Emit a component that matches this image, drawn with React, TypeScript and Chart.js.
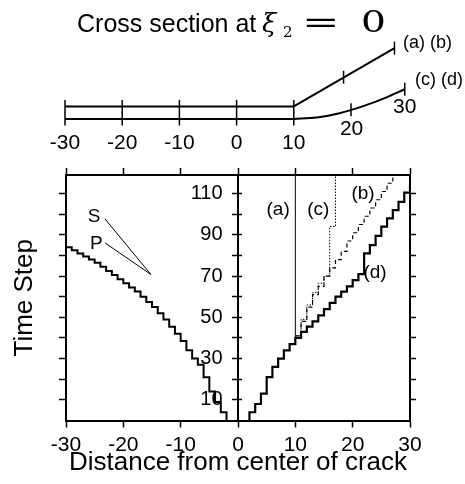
import React, { useEffect, useRef } from 'react';
import { Chart, registerables } from 'chart.js';
Chart.register(...registerables);

const FONT = "'Liberation Sans', Arial, sans-serif";
const SERIF = "'DejaVu Serif', 'Liberation Serif', serif";

// ---------- main panel data ----------
const xTickValues = [-30, -20, -10, 0, 10, 20, 30];
const timeTickValues = [10, 20, 30, 40, 50, 60, 70, 80, 90, 100, 110];
const timeLabelValues = [10, 30, 50, 70, 90, 110];
const timeLabelColumnX = -2.7;

const leftFrontX = [-30, -29, -28, -27, -26, -25, -24, -23, -22, -21, -20, -19, -18, -17, -16, -15, -14, -13, -12, -11, -10, -9, -8, -7, -6, -5, -4, -3, -2];
const leftFrontT = [84, 82.5, 81, 79.5, 78, 76.5, 74.5, 72.5, 70.5, 68.5, 66.5, 64.5, 62.5, 60, 57.5, 55, 52, 49, 45.5, 42, 38.5, 34, 30, 27, 21, 14, 9, 4, 0];

const dX = [2, 2, 3, 4, 5, 6, 7, 8, 9, 10, 11, 12, 13, 14, 15, 16, 17, 18, 19, 20, 21, 22, 22, 23, 24, 25, 26, 27, 28, 29, 30];
const dT = [0, 4, 8, 13, 21, 26, 30, 34, 37, 40, 43, 45.5, 48, 51, 54, 57, 60, 62.5, 65, 68, 71, 74, 81, 85, 89.5, 94, 98, 102, 106, 110.5, 115];

const bX = [10, 11, 12, 13, 14, 15, 16, 17, 18, 19, 20, 21, 22, 23, 24, 25, 26, 27];
const bT = [41, 48, 55, 61, 65, 70, 74, 78, 82, 87, 91, 95, 99, 103, 107, 111, 115, 122];

const cX = [10, 11, 12, 13, 14, 15, 16, 17];
const cT = [41, 49, 56, 62, 66.5, 70, 94, 122];

const aX = [10, 10];
const aT = [40, 122];

const sLineX = [-23.2, -15.2];
const sLineT = [97.7, 70.8];
const pLineX = [-23.2, -15.2];
const pLineT = [86.1, 70.8];

const noteText = ['S', 'P', '(a)', '(c)', '(b)', '(d)'];
const noteX = [-25.1, -24.7, 7, 14, 21.8, 23.9];
const noteT = [98.8, 85.7, 102, 102, 110, 71.6];

// ---------- cross-section diagram data ----------
const flatX = [-30, 10];
const upperFlatY = [2.2, 2.2];
const lowerFlatY = [0, 0];
const slopeX = [10, 27.6];
const slopeY = [2.2, 12.4];
const curveX = [10, 14, 18, 22, 26, 29.4];
const curveY = [0, 0.25, 1.0, 2.2, 3.7, 5.2];
const upperTickX = [-30, -20, -10, 0, 10, 18.7, 27.6];
const upperTickY = [2.2, 2.2, 2.2, 2.2, 2.2, 7.3, 12.4];
const lowerTickX = [-30, -20, -10, 0, 10, 20, 29.4];
const lowerTickY = [0, 0, 0, 0, 0, 1.6, 5.2];
const distLabelText = ['-30', '-20', '-10', '0', '10', '20', '30'];
const distLabelX = [-30, -20, -10, 0, 10, 20.1, 29.4];
const distLabelY = [-4.2, -4.2, -4.2, -4.2, -4.2, -1.75, 2.1];
const caseLabelText = ['(a) (b)', '(c) (d)'];
const caseLabelX = [29.1, 31.2];
const caseLabelY = [13.3, 6.8];

const pts = (xs: number[], ys: number[]) => xs.map((x, i) => ({ x, y: ys[i] }));

const blackGrid = (len: number) => ({
  drawOnChartArea: false,
  drawTicks: true,
  tickLength: len,
  color: '#000',
  tickColor: '#000',
  tickWidth: 1.5,
});
const frameBorder = { display: true, color: '#000', width: 2 };

export default function App() {
  const mainRef = useRef<HTMLCanvasElement>(null);
  const topRef = useRef<HTMLCanvasElement>(null);

  useEffect(() => {
    const notesPlugin = {
      id: 'notes',
      afterDatasetsDraw(chart: any) {
        const { ctx, scales } = chart;
        ctx.save();
        ctx.fillStyle = '#000';
        ctx.font = `19px ${FONT}`;
        ctx.textAlign = 'center';
        ctx.textBaseline = 'middle';
        noteText.forEach((t, i) => {
          ctx.fillText(t, scales.x.getPixelForValue(noteX[i]), scales.y.getPixelForValue(noteT[i]));
        });
        ctx.restore();
      },
    };

    const yTicksFromArray = (s: any) => {
      s.ticks = timeTickValues.map((v) => ({ value: v }));
    };
    const xTicksFromArray = (s: any) => {
      s.ticks = xTickValues.map((v) => ({ value: v }));
    };

    const main = new Chart(mainRef.current!, {
      type: 'line',
      data: {
        datasets: [
          { label: 'front', data: pts(leftFrontX, leftFrontT), borderColor: '#000', borderWidth: 2, stepped: 'before', pointRadius: 0 },
          { label: '(d)', data: pts(dX, dT), borderColor: '#000', borderWidth: 2.2, stepped: 'before', pointRadius: 0 },
          { label: '(b)', data: pts(bX, bT), borderColor: '#000', borderWidth: 1.2, borderDash: [4, 3], stepped: 'before', pointRadius: 0 },
          { label: '(c)', data: pts(cX, cT), borderColor: '#000', borderWidth: 1, borderDash: [1.5, 1.5], stepped: 'before', pointRadius: 0 },
          { label: '(a)', data: pts(aX, aT), borderColor: '#000', borderWidth: 1, pointRadius: 0 },
          { label: 'S', data: pts(sLineX, sLineT), borderColor: '#000', borderWidth: 1, pointRadius: 0 },
          { label: 'P', data: pts(pLineX, pLineT), borderColor: '#000', borderWidth: 1, pointRadius: 0 },
        ],
      } as any,
      options: {
        responsive: false,
        animation: false,
        events: [],
        layout: { padding: 0, autoPadding: false },
        plugins: { legend: { display: false }, tooltip: { enabled: false }, title: { display: false } },
        scales: {
          x: {
            type: 'linear', position: 'bottom', min: -30, max: 30,
            afterBuildTicks: xTicksFromArray,
            ticks: { color: '#000', font: { family: FONT, size: 21 }, padding: 5, maxRotation: 0, autoSkip: false },
            grid: blackGrid(7),
            border: frameBorder,
            title: { display: true, text: 'Distance from center of crack', color: '#000', font: { family: FONT, size: 26 }, padding: { top: 0, bottom: 6 } },
            afterFit: (s: any) => { s.height = 63.5; },
          },
          xTop: {
            type: 'linear', position: 'top', min: -30, max: 30,
            afterBuildTicks: xTicksFromArray,
            ticks: { display: false },
            grid: blackGrid(7),
            border: frameBorder,
            afterFit: (s: any) => { s.height = 175; },
          },
          y: {
            type: 'linear', position: 'left', min: 0, max: 119,
            afterBuildTicks: yTicksFromArray,
            ticks: { display: false },
            grid: blackGrid(7),
            border: frameBorder,
            title: { display: true, text: 'Time Step', color: '#000', font: { family: FONT, size: 26 }, padding: { top: 9.4, bottom: 0 } },
            afterFit: (s: any) => { s.width = 66; },
          },
          yRight: {
            type: 'linear', position: 'right', min: 0, max: 119,
            afterBuildTicks: yTicksFromArray,
            ticks: { display: false },
            grid: blackGrid(6),
            border: frameBorder,
            afterFit: (s: any) => { s.width = 55; },
          },
          yMid: {
            type: 'linear', position: { x: 0 }, min: 0, max: 119,
            afterBuildTicks: yTicksFromArray,
            ticks: { display: false },
            grid: blackGrid(5),
            border: frameBorder,
          },
          yMidR: {
            type: 'linear', position: { x: 0 }, min: 0, max: 119,
            afterBuildTicks: yTicksFromArray,
            ticks: { display: false },
            grid: blackGrid(-5),
            border: frameBorder,
          },
          yLabels: {
            type: 'linear', position: { x: timeLabelColumnX }, min: 0, max: 119,
            afterBuildTicks: yTicksFromArray,
            ticks: {
              display: true, color: '#000', font: { family: FONT, size: 20 }, padding: 0,
              callback: (v: any) => (timeLabelValues.includes(Number(v)) ? String(v) : ''),
            },
            grid: { drawOnChartArea: false, drawTicks: false, tickLength: 0 },
            border: { display: false },
          },
        } as any,
      },
      plugins: [notesPlugin],
    });

    const diagramPlugin = {
      id: 'diagramText',
      afterDatasetsDraw(chart: any) {
        const { ctx, scales } = chart;
        ctx.save();
        ctx.fillStyle = '#000';
        ctx.textBaseline = 'middle';
        ctx.textAlign = 'center';
        ctx.font = `21px ${FONT}`;
        distLabelText.forEach((t, i) => {
          ctx.fillText(t, scales.x.getPixelForValue(distLabelX[i]), scales.y.getPixelForValue(distLabelY[i]));
        });
        ctx.textAlign = 'left';
        ctx.font = `18px ${FONT}`;
        caseLabelText.forEach((t, i) => {
          ctx.fillText(t, scales.x.getPixelForValue(caseLabelX[i]), scales.y.getPixelForValue(caseLabelY[i]));
        });
        // title: Cross section at ξ2 = 0
        ctx.textBaseline = 'alphabetic';
        ctx.font = `25px ${FONT}`;
        ctx.fillText('Cross section at', 77, 32);
        ctx.font = `italic 26px ${SERIF}`;
        ctx.fillText('ξ', 262, 32);
        ctx.font = `15px ${SERIF}`;
        ctx.fillText('2', 283, 37);
        ctx.font = `29px ${SERIF}`;
        ctx.save();
        ctx.translate(302, 32);
        ctx.scale(1.55, 1);
        ctx.fillText('=', 0, 0);
        ctx.restore();
        ctx.save();
        ctx.translate(361, 32);
        ctx.scale(1.35, 1);
        ctx.fillText('0', 0, 0);
        ctx.restore();
        ctx.restore();
      },
    };

    const tickStyle = {
      showLine: false, pointStyle: 'line', pointRotation: 90, pointRadius: 6.5,
      pointBorderWidth: 1.5, pointBorderColor: '#000', borderColor: '#000', clip: false,
    };
    const lineStyle = { showLine: true, borderColor: '#000', borderWidth: 2, pointRadius: 0, clip: false };

    const top = new Chart(topRef.current!, {
      type: 'scatter',
      data: {
        datasets: [
          { label: 'upper flat', data: pts(flatX, upperFlatY), ...lineStyle },
          { label: 'upper slope', data: pts(slopeX, slopeY), ...lineStyle },
          { label: 'lower flat', data: pts(flatX, lowerFlatY), ...lineStyle },
          { label: 'lower curve', data: pts(curveX, curveY), ...lineStyle, cubicInterpolationMode: 'monotone' },
          { label: 'upper ticks', data: pts(upperTickX, upperTickY), ...tickStyle },
          { label: 'lower ticks', data: pts(lowerTickX, lowerTickY), ...tickStyle },
        ],
      } as any,
      options: {
        responsive: false,
        animation: false,
        events: [],
        layout: { padding: { left: 65, right: 56.8, top: 0, bottom: 0 }, autoPadding: false },
        plugins: { legend: { display: false }, tooltip: { enabled: false } },
        scales: {
          x: { type: 'linear', min: -30, max: 30, display: false },
          y: { type: 'linear', min: -7.17, max: 20.8, display: false },
        },
      },
      plugins: [diagramPlugin],
    });

    return () => {
      main.destroy();
      top.destroy();
    };
  }, []);

  return (
    <div style={{ position: 'absolute', left: 0, top: 0, width: 465, height: 484, background: '#fff' }}>
      <canvas ref={mainRef} width={465} height={484} style={{ position: 'absolute', left: 0, top: 0 }} />
      <canvas ref={topRef} width={465} height={160} style={{ position: 'absolute', left: 0, top: 0 }} />
    </div>
  );
}
